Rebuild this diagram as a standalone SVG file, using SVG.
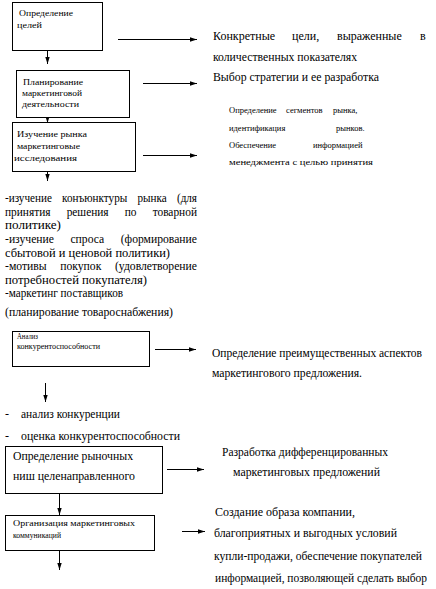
<svg xmlns="http://www.w3.org/2000/svg" width="436" height="589" viewBox="0 0 436 589">
<style>
.box{fill:#fff;stroke:#000;stroke-width:1}
.ln{stroke:#000;stroke-width:1;fill:none}
</style>
<defs>
<marker id="ah" viewBox="0 0 7 5" refX="7" refY="2.5" markerWidth="7" markerHeight="5" orient="auto" markerUnits="userSpaceOnUse">
<path d="M0,0.3 L7,2.5 L0,4.7 Z" fill="#000"/>
</marker>
</defs>
<rect width="436" height="589" fill="#fff"/>
<g id="connectors">
<line class="ln" x1="118" y1="39.5" x2="197" y2="39.5" marker-end="url(#ah)"/>
<line class="ln" x1="143" y1="83.5" x2="197" y2="83.5" marker-end="url(#ah)"/>
<line class="ln" x1="143" y1="155.5" x2="197" y2="155.5" marker-end="url(#ah)"/>
<line class="ln" x1="47.5" y1="50" x2="47.5" y2="64" marker-end="url(#ah)"/>
<line class="ln" x1="47.5" y1="117" x2="47.5" y2="123" marker-end="url(#ah)"/>
<line class="ln" x1="47.5" y1="171" x2="47.5" y2="181" marker-end="url(#ah)"/>
<line class="ln" x1="155" y1="349.5" x2="196" y2="349.5" marker-end="url(#ah)"/>
<line class="ln" x1="45.5" y1="383" x2="45.5" y2="402" marker-end="url(#ah)"/>
<line class="ln" x1="167" y1="469.5" x2="204" y2="469.5" marker-end="url(#ah)"/>
<line class="ln" x1="59.5" y1="493" x2="59.5" y2="515" marker-end="url(#ah)"/>
<line class="ln" x1="182" y1="531.5" x2="205" y2="531.5" marker-end="url(#ah)"/>
<line class="ln" x1="59.5" y1="550" x2="59.5" y2="570" marker-end="url(#ah)"/>
</g>
<g font-family="Liberation Serif" fill="#000">
<g id="n1">
<rect class="box" x="12.5" y="2.5" width="90" height="48"/>
<text font-size="9" x="19" y="16" textLength="54" lengthAdjust="spacingAndGlyphs">Определение</text>
<text font-size="9" x="17" y="28" textLength="25" lengthAdjust="spacingAndGlyphs">целей</text>
</g>
<g id="n2">
<rect class="box" x="16.5" y="70.5" width="113" height="47"/>
<text font-size="9" x="23" y="85" textLength="60" lengthAdjust="spacingAndGlyphs">Планирование</text>
<text font-size="9" x="22" y="96" textLength="60" lengthAdjust="spacingAndGlyphs">маркетинговой</text>
<text font-size="9" x="22" y="107" textLength="57" lengthAdjust="spacingAndGlyphs">деятельности</text>
</g>
<g id="n3">
<rect class="box" x="12.5" y="122.5" width="123" height="49"/>
<text font-size="9" x="17" y="137" textLength="70" lengthAdjust="spacingAndGlyphs">Изучение рынка</text>
<text font-size="9" x="17" y="149" textLength="63" lengthAdjust="spacingAndGlyphs">маркетинговые</text>
<text font-size="9" x="14" y="161" textLength="63" lengthAdjust="spacingAndGlyphs">исследования</text>
</g>
<g id="t1" font-size="12">
<text y="40"><tspan x="213">Конкретные</tspan> <tspan x="292">цели,</tspan> <tspan x="337">выраженные</tspan> <tspan x="420">в</tspan></text>
<text x="213" y="61" textLength="144" lengthAdjust="spacingAndGlyphs">количественных показателях</text>
<text x="213" y="81" textLength="166" lengthAdjust="spacingAndGlyphs">Выбор стратегии и ее разработка</text>
</g>
<g id="t2" font-size="8.5">
<text y="113"><tspan x="229">Определение</tspan> <tspan x="286">сегментов</tspan> <tspan x="333">рынка,</tspan></text>
<text y="131"><tspan x="229">идентификация</tspan> <tspan x="336">рынков.</tspan></text>
<text y="148"><tspan x="229">Обеспечение</tspan> <tspan x="313">информацией</tspan></text>
<text x="229" y="165" textLength="144" lengthAdjust="spacingAndGlyphs">менеджмента с целью принятия</text>
</g>
<g id="t3" font-size="12">
<text x="5" y="202" word-spacing="8" textLength="192" lengthAdjust="spacingAndGlyphs">-изучение конъюнктуры рынка (для</text>
<text x="5" y="216" word-spacing="14" textLength="192" lengthAdjust="spacingAndGlyphs">принятия решения по товарной</text>
<text x="5" y="229" textLength="56" lengthAdjust="spacingAndGlyphs">политике)</text>
<text x="5" y="243" word-spacing="14" textLength="192" lengthAdjust="spacingAndGlyphs">-изучение спроса (формирование</text>
<text x="5" y="257" textLength="165" lengthAdjust="spacingAndGlyphs">сбытовой и ценовой политики)</text>
<text x="5" y="270" word-spacing="11" textLength="192" lengthAdjust="spacingAndGlyphs">-мотивы покупок (удовлетворение</text>
<text x="5" y="284" textLength="142" lengthAdjust="spacingAndGlyphs">потребностей покупателя)</text>
<text x="5" y="297" textLength="118" lengthAdjust="spacingAndGlyphs">-маркетинг поставщиков</text>
<text x="5" y="316" textLength="168" lengthAdjust="spacingAndGlyphs">(планирование товароснабжения)</text>
</g>
<g id="n4">
<rect class="box" x="12.5" y="331.5" width="137" height="35"/>
<text font-size="8" x="17" y="339" textLength="21" lengthAdjust="spacingAndGlyphs">Анализ</text>
<text font-size="8" x="17" y="349" textLength="83" lengthAdjust="spacingAndGlyphs">конкурентоспособности</text>
</g>
<g id="t4" font-size="12">
<text x="212" y="357" textLength="210" lengthAdjust="spacingAndGlyphs">Определение преимущественных аспектов</text>
<text x="212" y="377" textLength="150" lengthAdjust="spacingAndGlyphs">маркетингового предложения.</text>
</g>
<g id="t5" font-size="12">
<text x="5" y="418">-</text>
<text x="21" y="418" textLength="99" lengthAdjust="spacingAndGlyphs">анализ конкуренции</text>
<text x="5" y="440">-</text>
<text x="21" y="440" textLength="159" lengthAdjust="spacingAndGlyphs">оценка конкурентоспособности</text>
</g>
<g id="n5">
<rect class="box" x="5.5" y="446.5" width="157" height="47"/>
<text font-size="12" x="13" y="460" textLength="120" lengthAdjust="spacingAndGlyphs">Определение рыночных</text>
<text font-size="12" x="13" y="480" textLength="122" lengthAdjust="spacingAndGlyphs">ниш целенаправленного</text>
</g>
<g id="t6" font-size="12">
<text x="222" y="456" textLength="166" lengthAdjust="spacingAndGlyphs">Разработка дифференцированных</text>
<text x="233" y="476" textLength="147" lengthAdjust="spacingAndGlyphs">маркетинговых предложений</text>
</g>
<g id="n6">
<rect class="box" x="5.5" y="515.5" width="149" height="35"/>
<text font-size="9" x="13" y="526" textLength="122" lengthAdjust="spacingAndGlyphs">Организация маркетинговых</text>
<text font-size="9" x="13" y="538" textLength="48" lengthAdjust="spacingAndGlyphs">коммуникаций</text>
</g>
<g id="t7" font-size="12">
<text x="215" y="516" textLength="140" lengthAdjust="spacingAndGlyphs">Создание образа компании,</text>
<text x="214" y="537" textLength="183" lengthAdjust="spacingAndGlyphs">благоприятных и выгодных условий</text>
<text x="214" y="560" textLength="208" lengthAdjust="spacingAndGlyphs">купли-продажи, обеспечение покупателей</text>
<text x="215" y="582" textLength="212" lengthAdjust="spacingAndGlyphs">информацией, позволяющей сделать выбор</text>
</g>
</g>
</svg>
